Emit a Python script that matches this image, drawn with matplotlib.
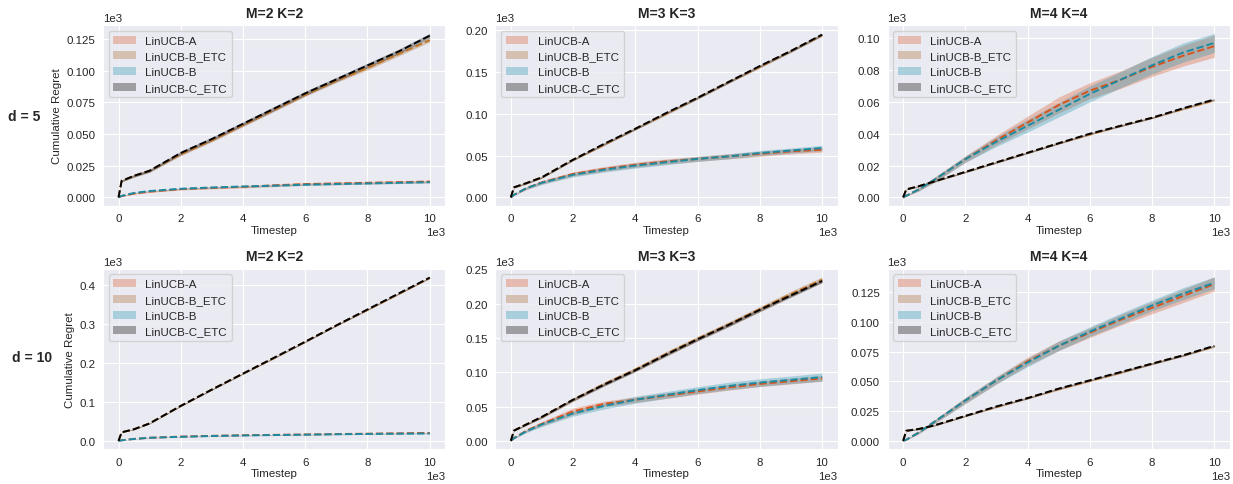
import matplotlib
matplotlib.use("Agg")
import numpy as np
import matplotlib.pyplot as plt
import seaborn as sns

sns.set_style("darkgrid")
plt.rcParams["font.family"] = ["Liberation Sans", "DejaVu Sans"]

steps = [0, 100, 500, 1000, 2000, 3000, 4000, 5000, 6000, 7000, 8000, 9000, 10000]

labels = ["LinUCB-A", "LinUCB-B_ETC", "LinUCB-B", "LinUCB-C_ETC"]
line_colors = ["#d9531c", "#bf7426", "#1b8ba3", "#000000"]
fill_colors = ["#dc5a2a", "#a8692c", "#2795ae", "#000000"]

titles = ["M=2 K=2", "M=3 K=3", "M=4 K=4"]
row_labels = ["d = 5", "d = 10"]

# d = 5, M=2 K=2  (mean, half width of band)
d5_m2_a = [0, 1, 3, 4.5, 6.5, 7.5, 8.3, 9.5, 10.5, 11, 11.5, 12, 12.5]
d5_m2_a_sd = [0, 0.3, 0.5, 0.6, 0.7, 0.8, 0.9, 1, 1, 1, 1, 1, 1]
d5_m2_betc = [0, 13, 17, 21, 34, 45, 57, 69, 81, 92, 102, 113, 124]
d5_m2_betc_sd = [0, 0.8, 1, 1, 1.2, 1.2, 1.3, 1.3, 1.4, 1.4, 1.5, 1.5, 1.5]
d5_m2_b = [0, 1.2, 3.5, 5, 6.8, 7.8, 8.6, 9.2, 10, 10.5, 11, 11.5, 12]
d5_m2_b_sd = [0, 0.3, 0.4, 0.5, 0.5, 0.6, 0.6, 0.6, 0.6, 0.6, 0.6, 0.6, 0.6]
d5_m2_cetc = [0, 13, 17, 21, 35, 46, 58, 70, 82, 93, 104, 115, 127.5]
d5_m2_cetc_sd = [0, 0.8, 1, 1.2, 1.4, 1.5, 1.5, 1.6, 1.7, 1.7, 1.8, 1.8, 1.8]

# d = 5, M=3 K=3
d5_m3_a = [0, 3, 11, 18, 28, 34, 39, 43, 46, 49, 52, 55, 57]
d5_m3_a_sd = [0, 0.5, 1.5, 2, 2.5, 2.8, 3, 3, 3, 3, 3, 3, 3]
d5_m3_betc = [0, 12, 17, 24, 45, 63, 82, 100, 119, 138, 156, 175, 194]
d5_m3_betc_sd = [0, 0.8, 1, 1, 1.2, 1.3, 1.4, 1.5, 1.5, 1.5, 1.5, 1.5, 1.5]
d5_m3_b = [0, 3, 11, 17.5, 27, 33, 38, 42, 46, 49, 53, 56, 59]
d5_m3_b_sd = [0, 0.5, 1.5, 2, 2.5, 2.8, 3, 3, 3, 3, 3, 3, 3.2]
d5_m3_cetc = [0, 12, 17, 24, 45, 64, 82, 101, 119, 138, 157, 175, 194.5]
d5_m3_cetc_sd = [0, 0.8, 1, 1, 1.2, 1.3, 1.4, 1.4, 1.5, 1.5, 1.5, 1.5, 1.5]

# d = 5, M=4 K=4
d5_m4_a = [0, 1, 5, 11, 24, 36, 47, 58, 67, 74, 82, 89, 95]
d5_m4_a_sd = [0, 0.3, 1, 1.5, 2, 3, 4, 5, 5, 5.5, 6, 6.5, 7]
d5_m4_betc = [0, 5, 7, 10, 16, 22, 28, 34, 39.5, 45, 50, 55.5, 61]
d5_m4_betc_sd = [0, 0.3, 0.4, 0.4, 0.5, 0.5, 0.5, 0.5, 0.5, 0.5, 0.5, 0.5, 0.5]
d5_m4_b = [0, 1, 5, 11, 24, 35, 45, 55, 65, 74, 83, 91, 97]
d5_m4_b_sd = [0, 0.3, 1, 1.5, 2, 3, 4, 4.5, 5, 5, 5.5, 6, 6]
d5_m4_cetc = [0, 5, 7, 10, 16, 22, 28, 34, 40, 45, 50, 56, 61.5]
d5_m4_cetc_sd = [0, 0.3, 0.4, 0.4, 0.5, 0.5, 0.5, 0.5, 0.5, 0.5, 0.5, 0.5, 0.5]

# d = 10, M=2 K=2
d10_m2_a = [0, 1.5, 5, 8, 11, 13, 14.5, 15.5, 16.5, 17.5, 18.5, 19.5, 20.5]
d10_m2_a_sd = [0, 0.3, 0.5, 0.7, 0.8, 0.9, 1, 1, 1, 1, 1, 1, 1]
d10_m2_betc = [0, 22, 30, 45, 90, 132, 173, 213, 255, 297, 337, 378, 419]
d10_m2_betc_sd = [0, 1, 1, 1.2, 1.4, 1.5, 1.5, 1.6, 1.6, 1.7, 1.7, 1.8, 1.8]
d10_m2_b = [0, 1.5, 5, 8, 10.5, 12.5, 14, 15, 16, 17, 17.8, 18.5, 19]
d10_m2_b_sd = [0, 0.3, 0.5, 0.7, 0.8, 0.9, 1, 1, 1, 1, 1, 1, 1]
d10_m2_cetc = [0, 22, 30, 45, 90, 132, 173, 214, 255, 297, 338, 379, 420]
d10_m2_cetc_sd = [0, 1, 1, 1.2, 1.4, 1.5, 1.5, 1.6, 1.6, 1.7, 1.7, 1.8, 1.8]

# d = 10, M=3 K=3
d10_m3_a = [0, 4, 15, 25, 43, 54, 60, 66, 72, 78, 83, 87, 91]
d10_m3_a_sd = [0, 1, 2, 3, 5, 4, 4, 4, 4, 4, 4, 4, 4]
d10_m3_betc = [0, 15, 24, 35, 60, 83, 104, 127, 149, 170, 192, 214, 235]
d10_m3_betc_sd = [0, 1, 1.5, 2, 2.5, 3, 3, 3.5, 3.5, 3.5, 4, 4, 4]
d10_m3_b = [0, 4, 14, 24, 40, 51, 60, 67, 74, 80, 85, 89, 93]
d10_m3_b_sd = [0, 1, 2, 3, 4, 4.5, 5, 5, 5, 5.5, 5.5, 5.5, 6]
d10_m3_cetc = [0, 15, 24, 35, 60, 82, 103, 126, 148, 169, 191, 212, 233]
d10_m3_cetc_sd = [0, 1, 1.2, 1.5, 2, 2, 2, 2.2, 2.2, 2.5, 2.5, 2.5, 2.5]

# d = 10, M=4 K=4
d10_m4_a = [0, 1, 7, 16, 34, 51, 67, 80, 91, 102, 112, 122, 132]
d10_m4_a_sd = [0, 0.3, 1, 1.5, 2.5, 3, 3.5, 4, 4, 4.5, 5, 5.5, 6]
d10_m4_betc = [0, 8.5, 10, 13, 21, 28.5, 36, 43.5, 50.5, 57.5, 65, 72, 79.5]
d10_m4_betc_sd = [0, 0.4, 0.5, 0.5, 0.6, 0.6, 0.7, 0.7, 0.7, 0.8, 0.8, 0.8, 0.8]
d10_m4_b = [0, 1, 7, 16, 34, 51, 66, 80, 92, 103, 114, 124, 133]
d10_m4_b_sd = [0, 0.3, 1, 1.5, 2.5, 3, 3.5, 4, 4, 4.5, 4.5, 5, 5]
d10_m4_cetc = [0, 8.5, 10, 13, 21, 29, 36, 44, 51, 58, 65, 72, 80]
d10_m4_cetc_sd = [0, 0.4, 0.5, 0.5, 0.6, 0.6, 0.7, 0.7, 0.7, 0.8, 0.8, 0.8, 0.8]

panels = [
    [
        [(d5_m2_a, d5_m2_a_sd), (d5_m2_betc, d5_m2_betc_sd), (d5_m2_b, d5_m2_b_sd), (d5_m2_cetc, d5_m2_cetc_sd)],
        [(d5_m3_a, d5_m3_a_sd), (d5_m3_betc, d5_m3_betc_sd), (d5_m3_b, d5_m3_b_sd), (d5_m3_cetc, d5_m3_cetc_sd)],
        [(d5_m4_a, d5_m4_a_sd), (d5_m4_betc, d5_m4_betc_sd), (d5_m4_b, d5_m4_b_sd), (d5_m4_cetc, d5_m4_cetc_sd)],
    ],
    [
        [(d10_m2_a, d10_m2_a_sd), (d10_m2_betc, d10_m2_betc_sd), (d10_m2_b, d10_m2_b_sd), (d10_m2_cetc, d10_m2_cetc_sd)],
        [(d10_m3_a, d10_m3_a_sd), (d10_m3_betc, d10_m3_betc_sd), (d10_m3_b, d10_m3_b_sd), (d10_m3_cetc, d10_m3_cetc_sd)],
        [(d10_m4_a, d10_m4_a_sd), (d10_m4_betc, d10_m4_betc_sd), (d10_m4_b, d10_m4_b_sd), (d10_m4_cetc, d10_m4_cetc_sd)],
    ],
]

fs = 8.25
fig, axes = plt.subplots(2, 3, figsize=(12.33, 4.85), dpi=100)
fig.subplots_adjust(left=0.0835, right=0.9975, bottom=0.072, top=0.946, wspace=0.146, hspace=0.35)

x = np.array(steps)
for r in range(2):
    for c in range(3):
        ax = axes[r, c]
        for k, (mean, sd) in enumerate(panels[r][c]):
            m = np.array(mean, dtype=float)
            s = np.array(sd, dtype=float)
            ax.fill_between(x, m - s, m + s, color=fill_colors[k], alpha=0.33,
                            linewidth=0, label=labels[k])
            ax.plot(x, m, color=line_colors[k], linestyle="--", linewidth=1.4)
        ax.ticklabel_format(axis="both", style="sci", scilimits=(3, 3))
        ax.tick_params(labelsize=fs, pad=2)
        ax.xaxis.get_offset_text().set_fontsize(fs)
        ax.yaxis.get_offset_text().set_fontsize(fs)
        ax.set_xlabel("Timestep", fontsize=fs, labelpad=1)
        ax.set_title(titles[c], fontsize=10, fontweight="bold", pad=6)
        ax.set_xticks([0, 2000, 4000, 6000, 8000, 10000])
        if c == 0:
            ax.set_ylabel("Cumulative Regret", fontsize=fs, labelpad=3)
        ax.legend(loc="upper left", fontsize=fs, framealpha=0.8)

fig.text(40 / 1233, 1 - 117 / 485, row_labels[0], ha="right", va="center",
         fontsize=10, fontweight="bold")
fig.text(52 / 1233, 1 - 358 / 485, row_labels[1], ha="right", va="center",
         fontsize=10, fontweight="bold")

fig.savefig("out.png", dpi=100)
